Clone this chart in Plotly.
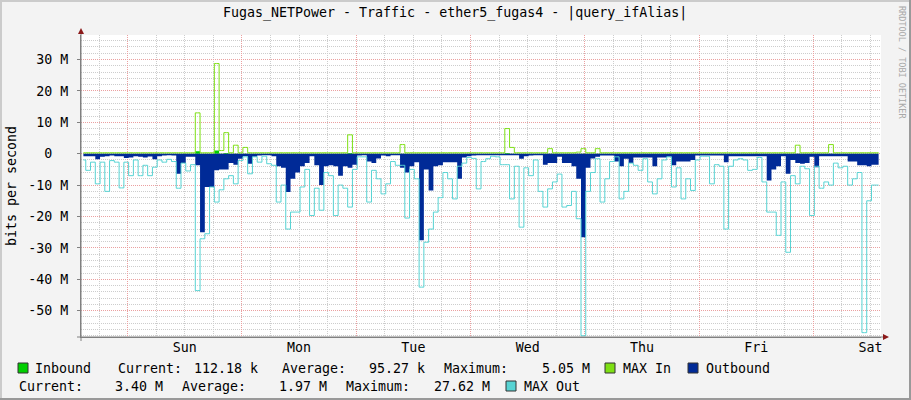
import pandas as pd
import plotly.graph_objects as go

# ---------------- data (values in Mbit/s, one value per hour) ----------------
start = pd.Timestamp("2023-01-07 14:12")
n_hours = 168

max_out = [
    -2.0, -5.3, -2.7, -9.6, -2.7, -12.0, -2.2, -2.7, -10.9, -2.7, -7.0, -2.0,
    -7.0, -3.7, -7.0, -4.3, -2.0, -2.7, -1.8, -2.5, -11.0, -3.0, -5.5, -3.5,
    -43.6, -27.1, -25.5, -10.6, -15.4, -11.5, -8.0, -7.0, -9.6, -2.2, -1.0, -6.4,
    -1.0, -2.7, -0.8, -3.2, -3.7, -15.4, -10.0, -24.0, -18.6, -18.6, -10.6, -5.0,
    -19.7, -11.0, -18.0, -6.0, -7.0, -19.7, -10.0, -11.0, -17.0, -5.0, -1.0, -1.0,
    -15.4, -5.3, -8.0, -12.8, -9.6, -2.5, -3.7, -3.7, -20.5, -5.0, -8.0, -42.5,
    -28.2, -24.0, -18.6, -14.0, -6.0, -8.0, -14.4, -4.0, -3.0, -1.2, -1.5, -11.2,
    -2.5, -1.6, -0.8, -1.0, -3.5, -3.5, -14.4, -4.0, -23.4, -4.5, -7.0, -2.0,
    -12.0, -17.0, -11.2, -9.0, -6.5, -17.0, -16.5, -12.0, -20.7, -58.0, -12.0, -6.0,
    -1.6, -15.4, -8.0, -2.5, -1.0, -14.4, -12.0, -3.0, -3.7, -5.3, -1.6, -9.0,
    -12.8, -8.0, -2.0, -1.0, -10.6, -4.5, -14.4, -8.0, -11.7, -2.0, -0.8, -0.8,
    -9.6, -3.5, -4.0, -24.0, -4.0, -2.0, -1.6, -2.0, -5.3, -5.0, -1.2, -9.0,
    -18.6, -18.6, -26.0, -9.0, -31.4, -7.0, -9.6, -4.0, -4.8, -19.7, -4.0, -11.0,
    -9.0, -10.0, -3.0, -4.5, -4.0, -10.0, -8.0, -6.0, -57.0, -15.0, -10.0, -10.0,
]

outbound = [
    -0.8, -0.8, -0.8, -1.8, -1.0, -0.8, -0.6, -0.8, -0.8, -1.4, -1.2, -0.8,
    -1.0, -1.2, -0.9, -1.8, -0.8, -0.6, -0.5, -0.6, -6.4, -3.0, -1.0, -1.0,
    -3.7, -25.0, -10.6, -10.6, -5.3, -5.0, -5.0, -3.0, -3.5, -1.6, -0.8, -3.2,
    -1.0, -0.6, -0.5, -0.5, -0.8, -4.0, -4.5, -12.2, -8.0, -6.0, -4.0, -3.0,
    -0.8, -3.7, -10.0, -4.0, -3.7, -4.0, -7.0, -4.0, -4.5, -3.5, -0.6, -0.5,
    -2.5, -3.0, -1.5, -0.6, -0.8, -0.5, -0.5, -4.5, -6.0, -4.0, -2.7, -27.6,
    -5.0, -11.7, -4.0, -3.7, -2.7, -2.7, -2.7, -8.0, -1.2, -0.8, -0.6, -0.5,
    -0.5, -0.5, -0.5, -0.5, -0.5, -0.5, -0.5, -0.5, -1.6, -0.8, -0.6, -0.5,
    -0.5, -3.5, -3.0, -3.0, -1.0, -3.0, -3.0, -4.0, -8.0, -26.6, -4.5, -1.5,
    -1.0, -0.6, -0.6, -0.6, -2.5, -4.0, -1.6, -3.0, -1.2, -1.2, -1.2, -1.2,
    -4.0, -1.2, -1.2, -1.0, -3.7, -2.5, -2.5, -2.5, -2.0, -0.6, -0.6, -0.6,
    -0.6, -0.6, -0.6, -2.7, -0.8, -0.8, -0.8, -0.8, -0.8, -0.8, -0.8, -0.8,
    -8.5, -5.0, -4.0, -0.8, -6.4, -2.0, -3.0, -3.2, -3.0, -1.0, -4.3, -0.8,
    -0.8, -0.8, -0.8, -0.8, -0.8, -2.5, -2.5, -3.7, -3.7, -4.0, -3.5, -3.5,
]

max_in = [
    0.3, 0.3, 0.3, 0.3, 0.3, 0.3, 0.3, 0.3, 0.3, 0.3, 0.3, 0.3,
    0.3, 0.3, 0.3, 0.3, 0.3, 0.3, 0.3, 0.3, 0.3, 0.3, 0.3, 0.3,
    13.0, 0.3, 0.3, 0.3, 28.7, 1.0, 6.7, 0.3, 2.7, 0.3, 2.0, 0.3,
    0.3, 0.3, 0.3, 0.3, 0.3, 0.3, 0.3, 0.3, 0.3, 0.3, 0.3, 0.3,
    0.3, 0.3, 0.3, 0.3, 0.3, 0.3, 0.3, 0.3, 6.0, 0.3, 0.3, 0.3,
    0.3, 0.3, 0.3, 0.3, 0.3, 0.3, 0.3, 2.9, 0.3, 0.3, 0.3, 0.3,
    0.3, 0.3, 0.3, 0.3, 0.3, 0.3, 0.3, 0.3, 0.3, 0.3, 0.3, 0.3,
    0.3, 0.3, 0.3, 0.3, 0.3, 8.0, 2.0, 0.3, 0.3, 0.3, 0.3, 0.3,
    0.3, 0.3, 1.6, 0.3, 0.3, 0.3, 0.3, 0.3, 0.5, 1.6, 0.3, 0.3,
    1.6, 0.3, 0.3, 0.3, 0.3, 0.3, 0.3, 0.3, 0.3, 0.3, 0.3, 0.3,
    0.3, 0.3, 0.3, 0.3, 0.3, 0.3, 0.3, 0.3, 0.3, 0.3, 0.3, 0.3,
    0.3, 0.3, 0.3, 0.3, 0.3, 0.3, 0.3, 0.3, 0.3, 0.3, 0.3, 0.3,
    0.3, 0.3, 0.3, 0.3, 0.3, 0.3, 2.7, 0.3, 0.3, 0.3, 0.3, 0.3,
    0.3, 2.9, 0.3, 0.3, 0.3, 0.3, 0.3, 0.3, 0.3, 0.3, 0.3, 0.3,
]

inbound = [
    0.1, 0.1, 0.1, 0.1, 0.1, 0.1, 0.1, 0.1, 0.1, 0.1, 0.1, 0.1,
    0.1, 0.1, 0.1, 0.1, 0.1, 0.1, 0.1, 0.1, 0.1, 0.1, 0.1, 0.1,
    0.8, 0.1, 0.1, 0.1, 1.0, 0.1, 0.2, 0.1, 0.1, 0.1, 0.1, 0.1,
    0.1, 0.1, 0.1, 0.1, 0.1, 0.1, 0.1, 0.1, 0.1, 0.1, 0.1, 0.1,
    0.1, 0.1, 0.1, 0.1, 0.1, 0.1, 0.1, 0.1, 0.2, 0.1, 0.1, 0.1,
    0.1, 0.1, 0.1, 0.1, 0.1, 0.1, 0.1, 0.1, 0.1, 0.1, 0.1, 0.1,
    0.1, 0.1, 0.1, 0.1, 0.1, 0.1, 0.1, 0.1, 0.1, 0.1, 0.1, 0.1,
    0.1, 0.1, 0.1, 0.1, 0.1, 0.2, 0.1, 0.1, 0.1, 0.1, 0.1, 0.1,
    0.1, 0.1, 0.1, 0.1, 0.1, 0.1, 0.1, 0.1, 0.1, 0.1, 0.1, 0.1,
    0.1, 0.1, 0.1, 0.1, 0.1, 0.1, 0.1, 0.1, 0.1, 0.1, 0.1, 0.1,
    0.1, 0.1, 0.1, 0.1, 0.1, 0.1, 0.1, 0.1, 0.1, 0.1, 0.1, 0.1,
    0.1, 0.1, 0.1, 0.1, 0.1, 0.1, 0.1, 0.1, 0.1, 0.1, 0.1, 0.1,
    0.1, 0.1, 0.1, 0.1, 0.1, 0.1, 0.1, 0.1, 0.1, 0.1, 0.1, 0.1,
    0.1, 0.1, 0.1, 0.1, 0.1, 0.1, 0.1, 0.1, 0.1, 0.1, 0.1, 0.1,
]

day_labels = ["Sun", "Mon", "Tue", "Wed", "Thu", "Fri", "Sat"]
first_day = pd.Timestamp("2023-01-08")
y_tick_vals = [30, 20, 10, 0, -10, -20, -30, -40, -50]
y_tick_text = ["30 M", "20 M", "10 M", "0\u00a0\u00a0", "-10 M", "-20 M",
               "-30 M", "-40 M", "-50 M"]

title_text = "Fugas_NETPower - Traffic - ether5_fugas4 - |query_ifAlias|"
legend_row1 = [("Inbound", 34), ("Current:", 117), ("112.18 k", 193),
               ("Average:", 281), ("95.27 k", 368), ("Maximum:", 443),
               ("5.05 M", 541), ("MAX In", 622), ("Outbound", 705)]
legend_row2 = [("Current:", 18), ("3.40 M", 114), ("Average:", 181),
               ("1.97 M", 278), ("Maximum:", 345), ("27.62 M", 433),
               ("MAX Out", 523)]

# ---------------- styling ----------------
C_IN = "#00CF00"
C_MAXIN = "#7EE014"
C_OUT = "#002A97"
C_MAXOUT = "#57D3D3"
GRID = "#CDCDCD"
MGRID = "#EBA0A0"
FONT = "DejaVu Sans Mono"
FS = 13.3

L, R, T, B = 81, 30, 35, 63
W, H = 911, 400
PW, PH = W - L - R, H - T - B


def px_x(x):
    return (x - L) / PW


def px_y(y):
    return (H - B - y) / PH


times = [start + pd.Timedelta(minutes=60 * h + 30) for h in range(n_hours)]
label_times = [first_day + pd.Timedelta(days=i, hours=12) for i in range(len(day_labels))]
midnights = [first_day + pd.Timedelta(days=i) for i in range(len(day_labels))]
x_range = [start, start + pd.Timedelta(days=7)]

M = 1e6
fig = go.Figure()
fig.add_trace(go.Scatter(x=times, y=[v * M for v in inbound], mode="lines",
                         line=dict(width=0, shape="hvh"), fill="tozeroy",
                         fillcolor=C_IN, hoverinfo="skip"))
fig.add_trace(go.Scatter(x=times, y=[v * M for v in outbound], mode="lines",
                         line=dict(width=0, shape="hvh"), fill="tozeroy",
                         fillcolor=C_OUT, hoverinfo="skip"))
fig.add_trace(go.Scatter(x=times, y=[v * M for v in max_out], mode="lines",
                         line=dict(width=1, color=C_MAXOUT, shape="hvh"),
                         hoverinfo="skip"))
fig.add_trace(go.Scatter(x=times, y=[v * M for v in max_in], mode="lines",
                         line=dict(width=1, color=C_MAXIN, shape="hvh"),
                         hoverinfo="skip"))
# carrier for the midnight (major) grid axis
fig.add_trace(go.Scatter(x=midnights, y=[0] * len(midnights), xaxis="x2",
                         mode="markers", marker=dict(opacity=0, size=1),
                         hoverinfo="skip"))

fig.update_layout(
    width=W, height=H, margin=dict(l=L, r=R, t=T, b=B, pad=0),
    paper_bgcolor="#F3F3F3", plot_bgcolor="#FFFFFF", showlegend=False,
    font=dict(family=FONT, size=FS, color="#000000"),
    xaxis=dict(type="date", range=x_range, tickmode="array",
               tickvals=label_times, ticktext=day_labels,
               showgrid=False, ticks="", zeroline=False,
               showline=True, linecolor="#808080", linewidth=1,
               ticklabelstandoff=-2,
               minor=dict(tick0=first_day, dtick=6 * 3600 * 1000,
                          showgrid=True, gridcolor=GRID, griddash="1px,1px",
                          gridwidth=1, ticks="")),
    xaxis2=dict(type="date", range=x_range, overlaying="x", anchor="y",
                tickmode="array", tickvals=midnights, showticklabels=False,
                showgrid=True, gridcolor=MGRID, griddash="1px,1px",
                gridwidth=1, ticks="", showline=False, zeroline=False),
    yaxis=dict(range=[-58.38 * M, 37.8 * M], tickmode="array",
               tickvals=[v * M for v in y_tick_vals], ticktext=y_tick_text,
               showgrid=True, gridcolor=MGRID, griddash="1px,1px",
               gridwidth=1, zeroline=False, ticks="outside", ticklen=3,
               tickcolor="#808080", showline=True, linecolor="#808080",
               linewidth=1, ticklabelstandoff=6,
               minor=dict(tick0=0, dtick=2 * M, showgrid=True,
                          gridcolor=GRID, griddash="1px,1px", gridwidth=1,
                          ticks="")),
)

ann = []
ann.append(dict(text=title_text, x=px_x(455), y=px_y(13), xref="paper",
                yref="paper", xanchor="center", yanchor="middle",
                showarrow=False, font=dict(family=FONT, size=FS)))
ann.append(dict(text="bits per second", x=px_x(11), y=px_y(186), xref="paper",
                yref="paper", xanchor="center", yanchor="middle",
                textangle=-90, showarrow=False, font=dict(family=FONT, size=FS)))
ann.append(dict(text="RRDTOOL / TOBI OETIKER", x=px_x(902), y=px_y(62),
                xref="paper", yref="paper", xanchor="center", yanchor="middle",
                textangle=90, showarrow=False,
                font=dict(family=FONT, size=8.5, color="#A8A8A8")))
for txt, x0 in legend_row1:
    ann.append(dict(text=txt, x=px_x(x0), y=px_y(368), xref="paper",
                    yref="paper", xanchor="left", yanchor="middle",
                    showarrow=False, borderpad=0,
                    font=dict(family=FONT, size=FS)))
for txt, x0 in legend_row2:
    ann.append(dict(text=txt, x=px_x(x0), y=px_y(386), xref="paper",
                    yref="paper", xanchor="left", yanchor="middle",
                    showarrow=False, borderpad=0,
                    font=dict(family=FONT, size=FS)))
fig.update_layout(annotations=ann)

shapes = []
# legend colour boxes
for (x0, y0, col) in [(18, 363, C_IN), (605, 363, C_MAXIN), (688, 363, C_OUT),
                      (506, 381, C_MAXOUT)]:
    shapes.append(dict(type="rect", xref="paper", yref="paper",
                       x0=px_x(x0), x1=px_x(x0 + 10), y0=px_y(y0), y1=px_y(y0 + 10),
                       fillcolor=col, line=dict(color="#333333", width=1),
                       layer="above"))
# 3D frame of the image
shapes.append(dict(type="rect", xref="paper", yref="paper", x0=px_x(0),
                   x1=px_x(W), y0=px_y(0), y1=px_y(2), fillcolor="#CBCBCB",
                   line=dict(width=0), layer="above"))
shapes.append(dict(type="rect", xref="paper", yref="paper", x0=px_x(0),
                   x1=px_x(2), y0=px_y(0), y1=px_y(H), fillcolor="#CBCBCB",
                   line=dict(width=0), layer="above"))
shapes.append(dict(type="rect", xref="paper", yref="paper", x0=px_x(W - 2),
                   x1=px_x(W), y0=px_y(0), y1=px_y(H), fillcolor="#999999",
                   line=dict(width=0), layer="above"))
shapes.append(dict(type="rect", xref="paper", yref="paper", x0=px_x(0),
                   x1=px_x(W), y0=px_y(H - 2), y1=px_y(H), fillcolor="#999999",
                   line=dict(width=0), layer="above"))
# axis extensions and arrows
shapes.append(dict(type="line", xref="paper", yref="paper", x0=0, x1=0,
                   y0=px_y(341), y1=px_y(30), line=dict(color="#808080", width=1)))
shapes.append(dict(type="line", xref="paper", yref="paper", x0=px_x(77),
                   x1=px_x(885), y0=0, y1=0, line=dict(color="#808080", width=1)))
shapes.append(dict(type="path", xref="paper", yref="paper",
                   path=f"M {px_x(78)},{px_y(34)} L {px_x(84)},{px_y(34)} L {px_x(81)},{px_y(28)} Z",
                   fillcolor="#8B1A1A", line=dict(width=0), layer="above"))
shapes.append(dict(type="path", xref="paper", yref="paper",
                   path=f"M {px_x(883)},{px_y(334)} L {px_x(883)},{px_y(340)} L {px_x(889)},{px_y(337)} Z",
                   fillcolor="#8B1A1A", line=dict(width=0), layer="above"))
fig.update_layout(shapes=shapes)

fig.write_html("out.html",
               config={"displayModeBar": False},
               post_script="document.body.style.margin='0';"
                           "document.body.style.padding='0';"
                           "document.body.style.overflow='hidden';")
